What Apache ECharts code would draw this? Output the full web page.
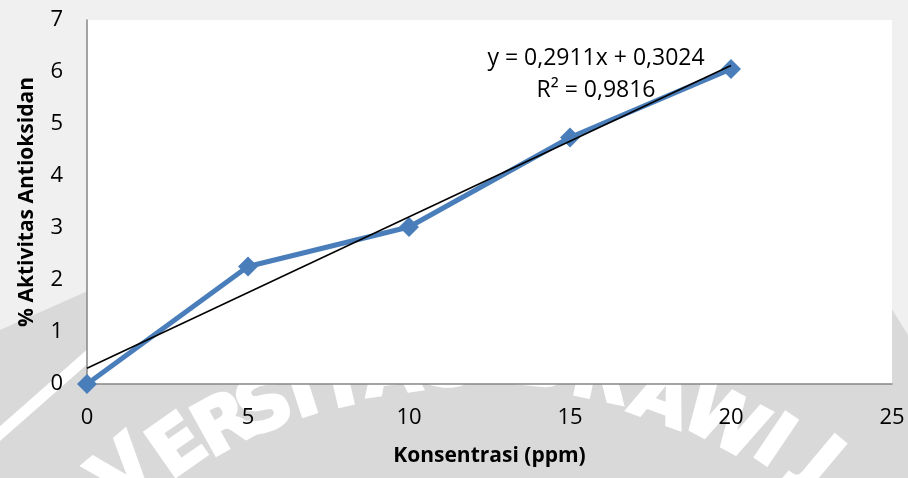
<!DOCTYPE html>
<html>
<head>
<meta charset="utf-8">
<title>Aktivitas Antioksidan</title>
<script src="https://cdn.jsdelivr.net/npm/echarts@6/dist/echarts.min.js"></script>
<style>
  html, body { margin: 0; padding: 0; background: #f0f0f0; }
  #chart { width: 908px; height: 478px; }
</style>
</head>
<body>
<div id="chart"></div>
<script>
// Concentration (ppm) and measured antioxidant activity (%)
const konsentrasi = [0, 5, 10, 15, 20];
const aktivitas = [0, 2.26, 3.02, 4.74, 6.06];

// Linear trendline coefficients
const slope = 0.2911;
const intercept = 0.3024;
const rSquared = 0.9816;

// Axis ranges
const xAxisRange = { min: 0, max: 25, interval: 5 };
const yAxisRange = { min: 0, max: 7, interval: 1 };

// Background stamp lettering along the lower arch
const stampLetters = ['V', 'E', 'R', 'S', 'I', 'T', 'A', 'S', 'B', 'R', 'A', 'W', 'I', 'J'];
const stampPlacement = [
  [126, 474, 40], [180, 450, 35], [226, 428, 29], [266, 410, 23],
  [304, 396, 18], [342, 386, 13], [392, 374, 8], [450, 366, 3],
  [540, 366, -6], [600, 380, -12], [660, 402, -20], [722, 425, -28],
  [772, 445, -34], [818, 466, -40]
];

const comma = v => String(v).replace('.', ',');
const trendStart = konsentrasi[0];
const trendEnd = konsentrasi[konsentrasi.length - 1];
const trendData = [
  [trendStart, slope * trendStart + intercept],
  [trendEnd, slope * trendEnd + intercept]
];

const FONT = '"Open Sans", "DejaVu Sans", sans-serif';

const backgroundShapes = [
  {
    type: 'polygon',
    z: -20,
    silent: true,
    shape: { points: [[0, 330], [90, 290], [880, 290], [908, 335], [908, 478], [0, 478]] },
    style: { fill: '#d9d9d9' }
  },
  {
    type: 'line',
    z: -19,
    silent: true,
    shape: { x1: -5, y1: 438, x2: 95, y2: 350 },
    style: { stroke: '#ffffff', lineWidth: 11 }
  }
];

const stampTexts = stampLetters.map((ch, i) => ({
  type: 'text',
  z: -18,
  silent: true,
  x: stampPlacement[i][0],
  y: stampPlacement[i][1],
  rotation: stampPlacement[i][2] * Math.PI / 180,
  style: {
    text: ch,
    fill: '#ffffff',
    stroke: '#ffffff',
    lineWidth: 3,
    font: 'bold 74px "DejaVu Sans", sans-serif',
    align: 'center',
    verticalAlign: 'middle'
  }
}));

const equationTexts = [
  {
    type: 'text',
    z: 10,
    x: 596,
    y: 58,
    style: {
      text: 'y = ' + comma(slope) + 'x + ' + comma(intercept),
      fill: '#000000',
      fontSize: 23,
      fontFamily: FONT,
      align: 'center',
      verticalAlign: 'middle'
    }
  },
  {
    type: 'text',
    z: 10,
    x: 596,
    y: 90,
    style: {
      text: 'R² = ' + comma(rSquared),
      fill: '#000000',
      fontSize: 23,
      fontFamily: FONT,
      align: 'center',
      verticalAlign: 'middle'
    }
  }
];

const chart = echarts.init(document.getElementById('chart'), null, { renderer: 'canvas' });

chart.setOption({
  backgroundColor: '#f0f0f0',
  animation: false,
  graphic: { elements: backgroundShapes.concat(stampTexts, equationTexts) },
  grid: {
    left: 87,
    right: 16,
    top: 20,
    bottom: 94,
    show: true,
    backgroundColor: '#ffffff',
    borderWidth: 0
  },
  xAxis: {
    type: 'value',
    min: xAxisRange.min,
    max: xAxisRange.max,
    interval: xAxisRange.interval,
    name: 'Konsentrasi (ppm)',
    nameLocation: 'middle',
    nameGap: 62,
    nameTextStyle: { fontFamily: FONT, fontWeight: 'bold', fontSize: 21, color: '#000' },
    axisLine: { show: true, lineStyle: { color: '#868686', width: 1.5 } },
    axisTick: { show: false },
    splitLine: { show: false },
    axisLabel: { fontFamily: FONT, fontSize: 22, color: '#000', margin: 23 }
  },
  yAxis: {
    type: 'value',
    min: yAxisRange.min,
    max: yAxisRange.max,
    interval: yAxisRange.interval,
    name: '% Aktivitas Antioksidan',
    nameLocation: 'middle',
    nameGap: 49,
    nameTextStyle: { fontFamily: FONT, fontWeight: 'bold', fontSize: 21, color: '#000' },
    axisLine: { show: true, lineStyle: { color: '#868686', width: 1.5 } },
    axisTick: { show: false },
    splitLine: { show: false },
    axisLabel: { fontFamily: FONT, fontSize: 22, color: '#000', margin: 24 }
  },
  series: [
    {
      name: 'Aktivitas',
      type: 'line',
      data: konsentrasi.map((x, i) => [x, aktivitas[i]]),
      symbol: 'diamond',
      symbolSize: 20,
      clip: false,
      lineStyle: { color: '#4a7ebb', width: 5 },
      itemStyle: { color: '#4a7ebb' },
      z: 3
    },
    {
      name: 'Linear',
      type: 'line',
      data: trendData,
      symbol: 'none',
      lineStyle: { color: '#000000', width: 1.5 },
      z: 4
    }
  ]
});
</script>
</body>
</html>
